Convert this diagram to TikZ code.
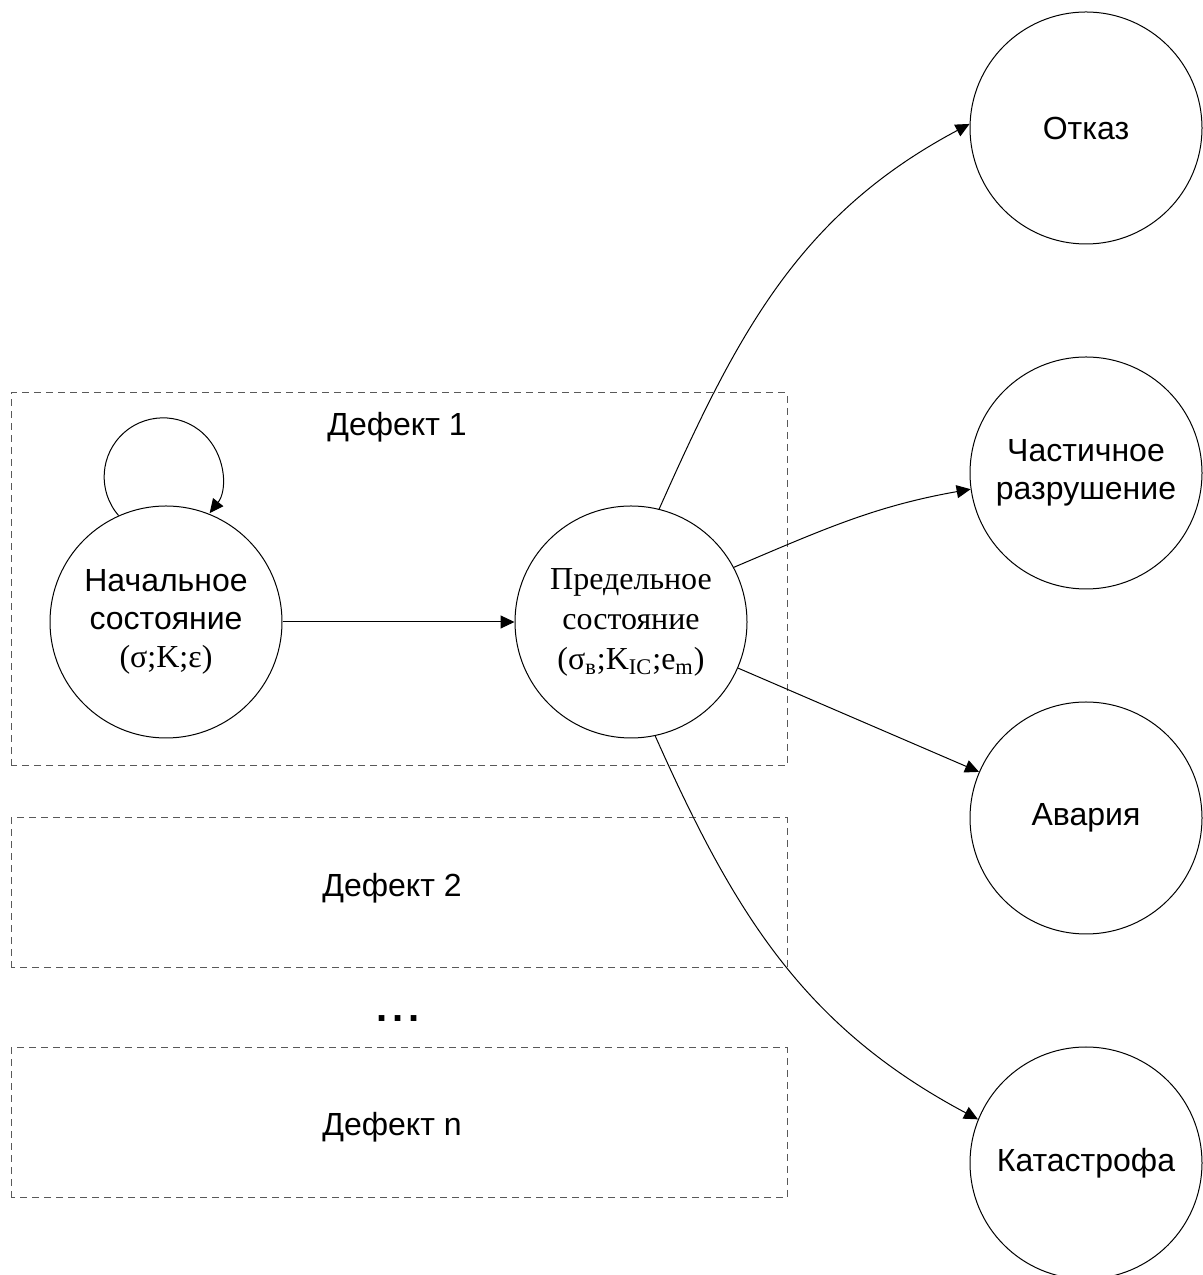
\documentclass[tikz,border=0pt]{standalone}
\usepackage{fontspec}
\setmainfont{Liberation Sans}
\newfontfamily\timesfont{Liberation Serif}
\usepackage{xcolor}
\usepackage{tikz}
\usetikzlibrary{arrows.meta,positioning}

\begin{document}
\begin{tikzpicture}[x=0.5pt,y=0.5pt,
	every node/.style={font=\fontsize{16}{19}\selectfont},
	state/.style={draw,circle,minimum size=116pt,inner sep=0pt,align=center,line width=0.5pt},
	defect/.style={draw=black!65,dash pattern=on 3.5pt off 2.5pt,line width=0.5pt},
	arr/.style={-{Triangle[length=7pt,width=6.5pt]},line width=0.5pt}]
	\newcommand\Sub[1]{\textsubscript{#1}}
	\useasboundingbox (0,0) rectangle (1203,1275);

	% defect boxes
	\draw[defect] (11,509) rectangle (787,882);
	\draw[defect] (11,307) rectangle (787,457);
	\draw[defect] (11,77) rectangle (787,227);
	\node (d1) at (397,848) {Дефект 1};
	\node (d2) at (392,387) {Дефект 2};
	\node[font=\fontsize{20}{20}\bfseries] (dots) at (398,256) {.\kern2.5pt.\kern2.5pt.};
	\node (dn) at (392,148) {Дефект n};

	% states
	\node[state] (init) at (166,653) {Начальное\\состояние\\{\timesfont(σ;K;ε)}};
	\node[state,font=\fontsize{16}{20}\timesfont] (limit) at (631,653)
		{Предельное\\состояние\\(σ\Sub{в};K\Sub{IC};e\Sub{m})};
	\node[state] (fail) at (1086,1147) {Отказ};
	\node[state] (partial) at (1086,802) {Частичное\\разрушение};
	\node[state] (accident) at (1086,457) {Авария};
	\node[state] (disaster) at (1086,112) {Катастрофа};

	% transitions
	\draw[arr] (init.114) arc[start angle=221,end angle=-38,radius=29.5pt];
	\draw[arr] (init) -- (limit);
	\draw[arr] (limit.76) to[out=66,in=208] (fail.178);
	\draw[arr] (limit.28) to[out=23,in=190] (partial.188);
	\draw[arr] (limit) -- (accident);
	\draw[arr] (limit.-78) to[out=-66,in=152] (disaster.158);
\end{tikzpicture}
\end{document}
